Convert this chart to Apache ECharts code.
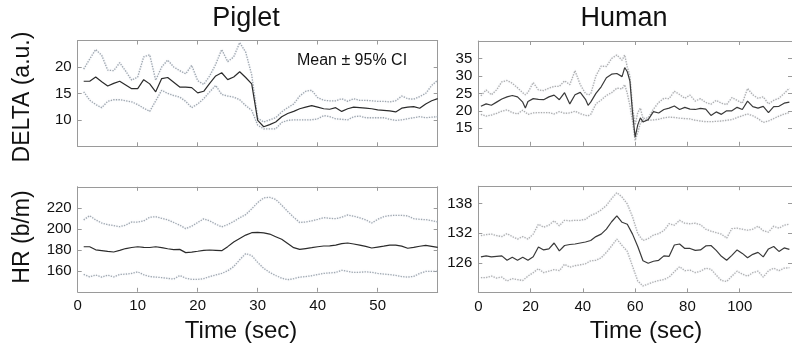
<!DOCTYPE html>
<html><head><meta charset="utf-8">
<script src="https://cdn.jsdelivr.net/npm/echarts@6/dist/echarts.min.js"></script>
<style>html,body{margin:0;padding:0;background:#fff}#c{width:792px;height:352px}</style>
</head><body><div id="c"></div>
<script>
// ---- Piglet (time 1..60 s) ----
const tPig = [1,2,3,4,5,6,7,8,9,10,11,12,13,14,15,16,17,18,19,20,21,22,23,24,25,26,27,28,29,30,31,32,33,34,35,36,37,38,39,40,41,42,43,44,45,46,47,48,49,50,51,52,53,54,55,56,57,58,59,60];
const deltaPigMean = [17.3,17.3,18.1,17.2,16.4,16.9,17.3,16.6,15.9,15.9,17.6,16.8,15.3,17.8,18.0,17.1,16.2,16.2,16.1,15.1,15.4,16.9,18.3,18.9,17.6,18.1,19.1,18.0,16.8,9.9,8.7,9.1,9.6,10.6,11.2,11.6,12.1,12.4,12.7,12.4,12.1,12.0,12.3,11.6,12.1,12.4,12.3,12.2,12.1,11.9,11.8,11.7,11.5,12.2,12.4,12.5,12.2,13.0,13.6,14.0];
const deltaPigUpper = [19.6,21.5,23.3,22.2,19.4,19.3,20.8,19.2,17.5,18.1,21.9,22.3,17.5,20.0,21.3,20.0,19.3,18.7,20.3,17.4,16.7,18.3,20.5,23.3,21.0,21.9,24.6,22.8,18.5,10.3,9.6,10.0,10.4,11.5,12.3,13.0,14.5,15.4,15.6,14.2,13.7,13.6,13.6,14.0,13.5,14.0,13.7,13.7,13.6,13.5,13.5,13.4,13.6,14.5,14.0,13.9,14.4,15.0,16.5,17.5];
const deltaPigLower = [15.3,13.7,12.9,12.3,13.5,13.8,13.8,13.6,13.4,12.9,12.2,11.6,13.6,15.6,15.0,14.6,14.3,13.5,12.3,13.0,14.0,15.3,16.5,14.8,14.5,14.3,13.8,12.7,11.8,9.0,8.3,8.3,8.3,9.5,9.9,10.0,10.0,10.0,10.0,10.2,10.8,10.6,10.2,10.1,10.0,10.6,10.7,10.4,10.4,10.4,10.4,10.1,9.9,10.0,10.2,10.4,10.6,10.4,10.5,10.6];
const hrPigMean = [182.9,182.9,180.0,179.3,178.5,177.9,179.5,181.2,182.2,182.9,182.3,182.2,182.9,182.0,181.0,180.2,180.4,177.3,177.8,178.6,179.5,179.8,179.5,179.2,183.0,187.5,190.8,194.0,196.3,196.6,196.2,195.0,192.5,190.0,186.0,182.0,180.4,181.2,182.0,182.9,183.6,183.8,184.5,185.8,186.5,185.5,184.5,183.2,181.7,182.6,183.5,184.5,184.5,183.5,181.5,182.3,183.4,184.2,183.3,182.3];
const hrPigUpper = [208.5,212.5,208.5,205.5,204.0,203.0,202.0,203.5,206.5,206.3,207.5,211.0,211.5,210.0,208.5,206.0,203.5,200.2,202.5,206.0,209.5,207.5,204.5,201.8,204.0,207.0,210.5,213.5,219.0,225.0,229.5,230.0,228.0,222.5,216.5,211.0,206.0,206.5,207.5,209.0,210.6,210.0,209.6,211.0,213.2,212.0,210.5,208.5,205.5,209.0,211.5,212.6,212.8,212.8,212.3,209.6,209.0,208.7,207.8,206.5];
const hrPigLower = [156.5,154.2,156.0,154.0,155.8,154.2,156.5,156.8,157.5,159.0,156.2,154.5,154.0,153.5,152.8,152.1,155.5,153.0,151.8,151.8,152.5,154.5,156.0,157.5,160.0,164.0,170.5,176.4,174.5,168.0,162.3,158.5,155.5,153.0,151.5,152.5,154.0,154.5,155.3,156.5,157.5,158.0,158.4,160.5,159.5,158.4,158.6,159.0,158.5,157.5,156.9,156.4,155.6,154.5,154.0,154.7,157.5,159.4,159.4,159.4];

// ---- Human ----
const tHumDelta = [1,3,5,7,9,11,13,15,17,18,19,21,23,25,27,29,31,33,35,37,39,41,42,43,45,47,49,51,53,55,56,57,58,59,60,61,62,63,65,67,69,71,73,75,77,79,81,83,85,87,89,91,93,95,97,99,101,103,105,107,109,111,113,115,117,119];
const deltaHumMean = [21.3,22.0,21.6,22.5,23.4,24.0,24.4,24.0,22.5,20.8,22.7,23.5,23.3,23.2,24.0,24.5,23.2,25.2,22.0,24.6,25.3,23.3,21.6,22.5,25.0,26.9,29.5,30.5,30.7,29.8,32.4,31.2,28.5,19.5,12.5,16.0,18.0,16.8,17.5,19.8,19.4,20.4,20.8,21.4,20.4,21.0,20.5,20.4,20.7,20.5,18.7,19.7,19.0,20.0,20.0,21.0,20.4,22.8,21.2,20.8,21.3,19.5,21.2,21.3,22.2,22.5];
const deltaHumUpper = [24.3,26.0,24.6,26.0,28.3,28.7,27.9,26.6,25.2,24.6,25.3,28.1,26.0,25.8,26.5,27.0,27.0,28.6,27.5,31.5,27.5,25.0,24.6,24.8,30.0,32.8,32.7,35.0,36.0,34.5,36.0,32.5,30.0,21.0,16.0,19.5,20.8,17.8,18.0,20.5,22.4,23.6,23.5,25.6,24.7,23.6,24.5,22.8,23.5,22.4,21.9,23.0,22.2,21.8,23.8,23.0,22.2,26.4,24.6,23.6,24.0,22.0,23.0,23.6,25.0,26.5];
const deltaHumLower = [19.0,18.5,18.8,19.3,19.9,20.3,19.5,19.1,20.2,19.6,19.0,19.4,19.5,19.5,19.5,19.1,19.8,19.3,19.4,19.9,19.2,18.7,18.6,19.0,22.0,23.1,24.4,25.2,26.5,26.3,27.5,25.0,21.5,17.0,11.5,13.8,16.5,17.4,17.3,17.4,17.6,18.0,18.2,18.1,17.9,17.8,17.7,17.3,17.1,16.9,16.9,17.0,17.1,17.3,17.5,18.1,18.6,19.1,18.6,17.8,16.7,17.1,17.8,18.5,19.1,19.5];
const tHumHr = [1,3,5,7,9,11,13,15,17,19,21,23,25,27,29,31,33,35,37,39,41,43,45,47,49,51,53,55,57,59,61,63,65,67,69,71,73,75,77,79,81,83,85,87,89,91,93,95,97,99,101,103,105,107,109,111,113,115,117,119];
const hrHumMean = [127.2,127.4,127.2,127.3,127.4,126.5,127.1,126.5,127.1,126.5,127.2,129.2,128.6,128.8,130.0,128.4,129.5,129.7,129.8,130.0,130.2,130.5,131.3,131.8,132.8,134.3,135.5,134.2,133.8,131.8,129.3,126.4,125.9,126.3,126.5,127.4,127.3,129.6,129.8,128.9,128.9,128.5,128.6,129.4,129.5,128.5,127.3,126.5,127.5,128.6,127.9,127.0,127.7,128.1,127.2,128.8,129.3,128.3,129.0,128.7];
const hrHumUpper = [131.5,131.7,131.8,131.5,131.3,131.9,131.3,130.8,131.3,130.8,131.8,133.8,133.2,133.6,134.5,133.5,134.6,134.5,134.6,134.6,134.8,135.6,136.0,136.7,137.6,139.0,140.2,139.3,137.9,135.3,131.9,130.5,130.9,131.6,131.9,132.5,133.9,133.6,134.6,134.0,133.9,134.0,133.7,132.8,132.4,132.1,131.8,131.0,132.9,133.0,132.8,132.6,132.8,133.4,132.5,132.2,133.4,133.0,133.6,133.8];
const hrHumLower = [123.0,123.0,123.3,122.9,123.1,122.3,122.8,122.6,122.4,123.3,124.0,124.8,124.0,124.3,124.6,124.4,125.7,125.1,125.4,125.6,125.8,126.4,126.5,127.0,128.1,129.4,130.8,129.5,128.3,125.3,122.3,121.3,121.7,122.1,122.4,122.6,123.1,124.2,125.2,124.4,124.5,124.0,124.3,124.9,124.7,123.5,122.4,122.2,123.3,124.3,123.7,123.3,124.0,124.3,123.1,124.4,124.9,124.4,124.9,125.0];

const FONT = '"Liberation Sans", Arial, sans-serif';
const BOX = '#9a9a9a';
const MEAN = ['#2b2b2b', '#3a3a3a', '#2b2b2b', '#3a3a3a'];
const CI = ['#9ea6ae', '#adadad', '#a0a8b0', '#b0b0b0'];

const grids = [
  {left: 77.7, top: 40.5, width: 360, height: 105.8},
  {left: 478.3, top: 41, width: 320.7, height: 104.8},
  {left: 77.7, top: 186.8, width: 360, height: 105},
  {left: 478.3, top: 186.2, width: 320.7, height: 106.2}
];
const xCfg = [
  {min:0,max:60,interval:10,labels:false},
  {min:0,max:120,interval:20,labels:false},
  {min:0,max:60,interval:10,labels:true},
  {min:0,max:120,interval:20,labels:true}
];
const yCfg = [
  {min:5,max:25,interval:5},
  {min:10,max:40,interval:5},
  {min:140,max:240,interval:20},
  {min:120,max:141.5,interval:6}
];
const xAxis = [], yAxis = [];
grids.forEach((g,i)=>{
  const xc = xCfg[i], yc = yCfg[i];
  ['bottom','top'].forEach((pos,k)=>{
    xAxis.push({type:'value', gridIndex:i, position:pos, min:xc.min, max:xc.max, interval:xc.interval,
      axisLine:{show:true, onZero:false, lineStyle:{color:BOX, width:1}},
      axisTick:{show:true, inside:true, length:4, lineStyle:{color:BOX}},
      axisLabel:{show: k===0 && xc.labels, showMaxLabel:false, showMinLabel:true, color:'#111', fontFamily:FONT, fontSize:15, margin:7},
      splitLine:{show:false}});
  });
  ['left','right'].forEach((pos,k)=>{
    yAxis.push({type:'value', gridIndex:i, position:pos, min:yc.min, max:yc.max, interval:yc.interval,
      axisLine:{show:true, onZero:false, lineStyle:{color:BOX, width:1}},
      axisTick:{show:true, inside:true, length:4, lineStyle:{color:BOX}},
      axisLabel:{show: k===0, showMaxLabel:false, showMinLabel:false, color:'#111', fontFamily:FONT, fontSize:15, margin:6},
      splitLine:{show:false}});
  });
});

function pairs(t, v){ return t.map((x,i)=>[x, v[i]]); }
const sets = [
  [tPig, deltaPigMean, deltaPigUpper, deltaPigLower],
  [tHumDelta, deltaHumMean, deltaHumUpper, deltaHumLower],
  [tPig, hrPigMean, hrPigUpper, hrPigLower],
  [tHumHr, hrHumMean, hrHumUpper, hrHumLower]
];
const series = [];
sets.forEach((s,i)=>{
  [s[2], s[3]].forEach(v=>{
    series.push({type:'line', xAxisIndex:2*i, yAxisIndex:2*i, data:pairs(s[0], v), showSymbol:false, silent:true,
      lineStyle:{color:CI[i], width:1.3, type:[1.3,1.3], shadowBlur:1.5, shadowColor:'rgba(160,175,200,0.4)'}});
  });
  series.push({type:'line', xAxisIndex:2*i, yAxisIndex:2*i, data:pairs(s[0], s[1]), showSymbol:false, silent:true,
    lineStyle:{color:MEAN[i], width:1.2}});
});

const txt = (text, x, y, size, rot) => ({type:'text', x, y, rotation: rot||0, silent:true,
  style:{text, font: size+'px '+FONT, fill:'#111', align:'center', verticalAlign:'middle'}});

const chart = echarts.init(document.getElementById('c'), null, {renderer:'canvas'});
chart.setOption({
  animation:false,
  backgroundColor:'#fff',
  grid: grids.map(g=>Object.assign({containLabel:false}, g)),
  xAxis, yAxis, series,
  graphic:[
    txt('Piglet', 246, 19, 27),
    txt('Human', 624, 19, 27),
    txt('Mean ± 95% CI', 352, 61, 16),
    txt('DELTA (a.u.)', 23, 97, 23, Math.PI/2),
    txt('HR (b/m)', 23, 237, 23, Math.PI/2),
    txt('Time (sec)', 241, 331, 24),
    txt('Time (sec)', 646, 331, 24)
  ]
});
</script></body></html>
